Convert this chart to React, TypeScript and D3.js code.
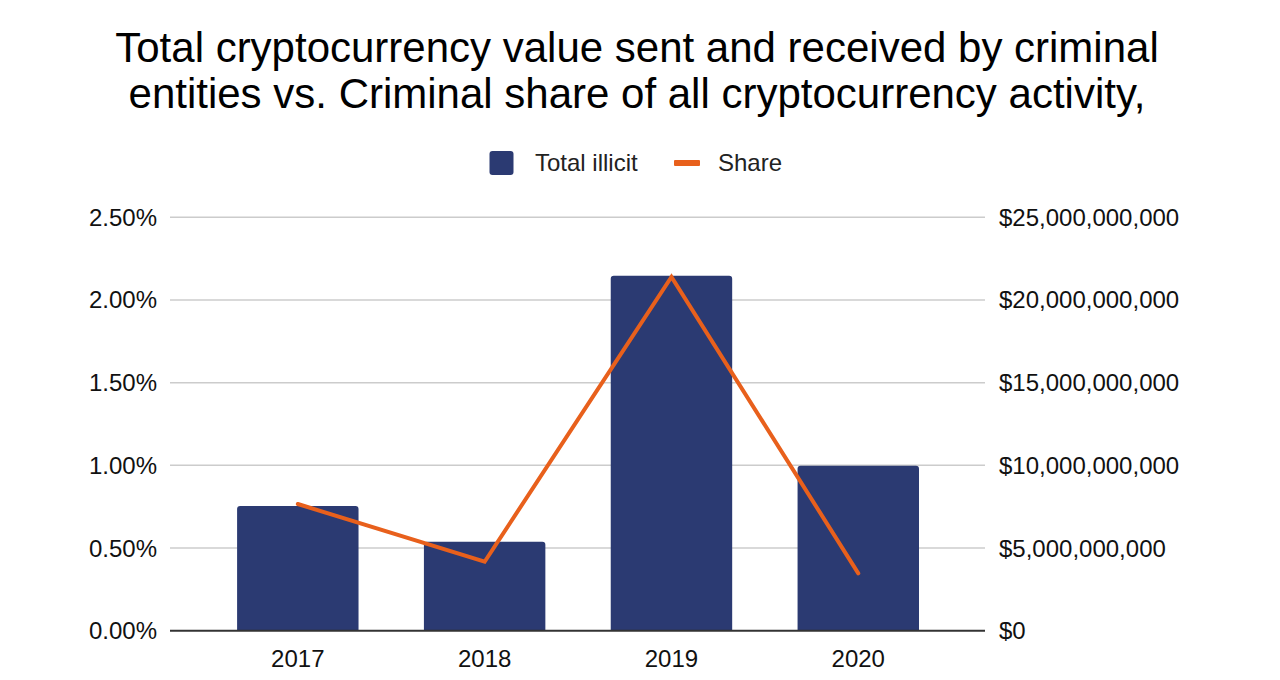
import React from "react";
import * as d3 from "d3";

const years = ["2017", "2018", "2019", "2020"];
const totalIllicit = [7.54e9, 5.38e9, 21.47e9, 9.98e9];
const share = [0.766, 0.417, 2.14, 0.347];
const leftTicks = [0, 0.5, 1, 1.5, 2, 2.5];
const rightTicks = [0, 5e9, 10e9, 15e9, 20e9, 25e9];
const titleLines = [
  "Total cryptocurrency value sent and received by criminal",
  "entities vs. Criminal share of all cryptocurrency activity,",
];

const W = 1280;
const H = 680;
const FONT = "'Liberation Sans', Arial, sans-serif";
const BAR = "#2b3a72";
const LINE = "#e8601c";

export default function App() {
  const plotL = 170, plotR = 985, plotT = 217.3, plotB = 630.7;
  const x = d3.scaleBand<string>().domain(years).range([204.4, 951.7]).paddingInner(0.35).paddingOuter(0.175);
  const yL = d3.scaleLinear().domain([0, 2.5]).range([plotB, plotT]);
  const yR = d3.scaleLinear().domain([0, 25e9]).range([plotB, plotT]);
  const fmtPct = (v: number) => v.toFixed(2) + "%";
  const fmtUsd = (v: number) => "$" + d3.format(",")(v);
  const line = d3
    .line<number>()
    .x((_, i) => (x(years[i]) as number) + x.bandwidth() / 2)
    .y((d) => yL(d));

  return (
    <svg width={W} height={H} style={{ position: "absolute", left: 0, top: 0, background: "#fff" }} fontFamily={FONT}>
      <rect width={W} height={H} fill="#fff" />
      {titleLines.map((t, i) => (
        <text key={i} x={637} y={62 + i * 46} textAnchor="middle" fontSize={42} fill="#000">
          {t}
        </text>
      ))}
      {/* legend */}
      <rect x={489.5} y={151} width={24} height={24} rx={3} fill={BAR} />
      <text x={535} y={171} fontSize={24} fill="#222">Total illicit</text>
      <rect x={674} y={160} width={26} height={6} rx={1} fill={LINE} />
      <text x={718} y={171} fontSize={24} fill="#222">Share</text>

      {/* grid */}
      {leftTicks.slice(1).map((t) => (
        <line key={t} x1={plotL} x2={plotR} y1={yL(t)} y2={yL(t)} stroke="#cccccc" strokeWidth={1.5} />
      ))}
      {leftTicks.map((t) => (
        <text key={"l" + t} x={157} y={yL(t) + 8.5} textAnchor="end" fontSize={24} fill="#111">
          {fmtPct(t)}
        </text>
      ))}
      {rightTicks.map((t) => (
        <text key={"r" + t} x={999} y={yR(t) + 8.5} textAnchor="start" fontSize={24} fill="#111">
          {fmtUsd(t)}
        </text>
      ))}

      {/* bars */}
      {totalIllicit.map((v, i) => {
        const bx = x(years[i]) as number;
        const by = yR(v);
        const bw = x.bandwidth();
        const r = 3;
        const d = `M${bx},${plotB} L${bx},${by + r} Q${bx},${by} ${bx + r},${by} L${bx + bw - r},${by} Q${bx + bw},${by} ${bx + bw},${by + r} L${bx + bw},${plotB} Z`;
        return <path key={years[i]} d={d} fill={BAR} />;
      })}

      <line x1={plotL} x2={plotR} y1={plotB} y2={plotB} stroke="#333" strokeWidth={2} />

      <path d={line(share) || ""} fill="none" stroke={LINE} strokeWidth={4} strokeLinejoin="miter" strokeLinecap="round" />

      {years.map((yv) => (
        <text key={yv} x={(x(yv) as number) + x.bandwidth() / 2} y={667} textAnchor="middle" fontSize={24} fill="#111">
          {yv}
        </text>
      ))}
    </svg>
  );
}
